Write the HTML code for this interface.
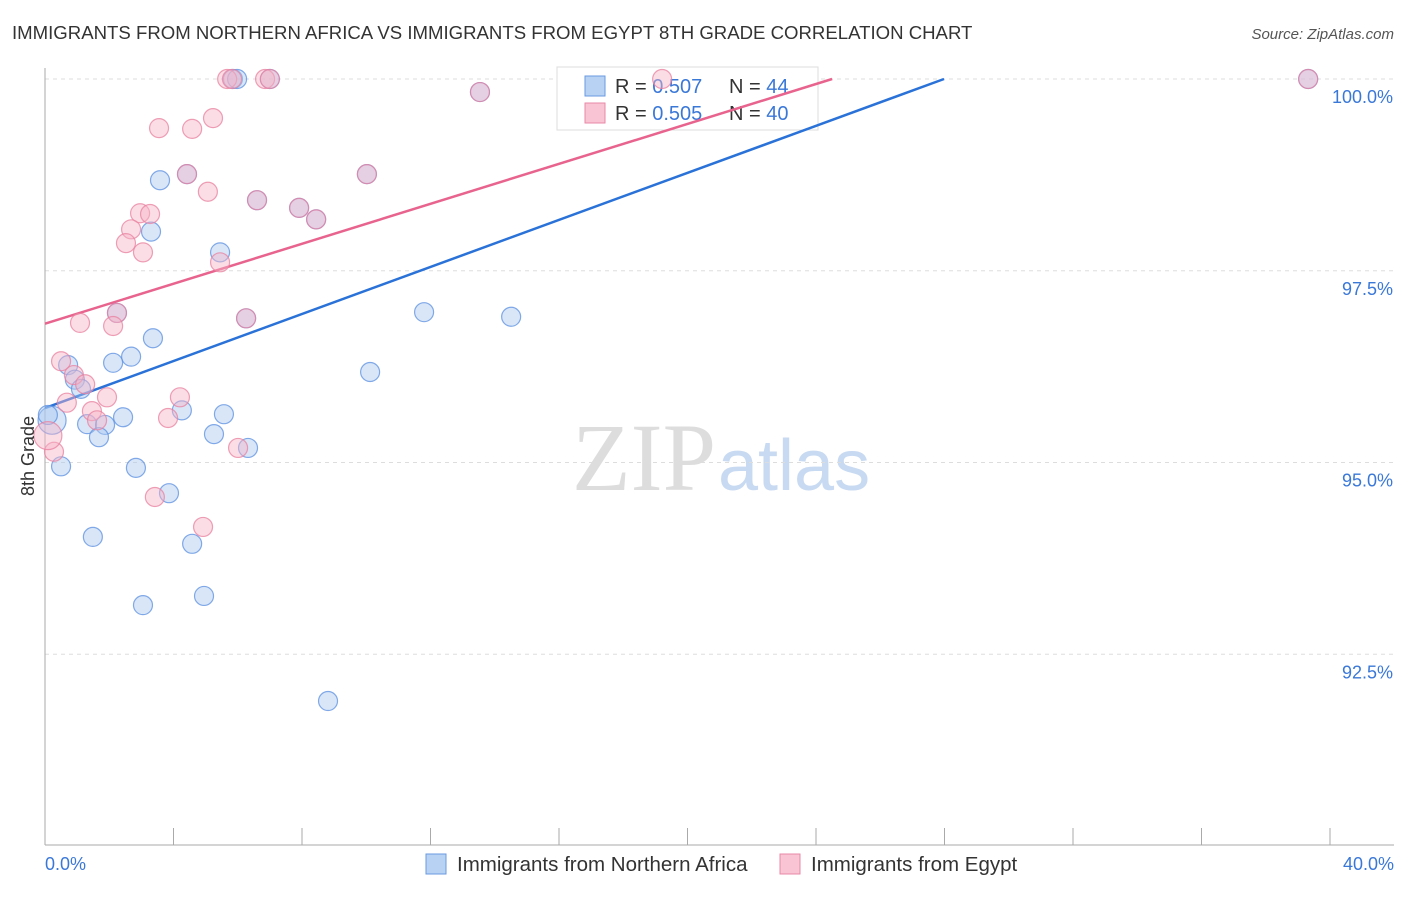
<!DOCTYPE html>
<html><head><meta charset="utf-8"><style>
body{margin:0;background:#fff;font-family:"Liberation Sans",sans-serif}
</style></head><body>
<svg id="c" width="1406" height="892" xmlns="http://www.w3.org/2000/svg">
<text x="12" y="39" font-size="18.6" fill="#333">IMMIGRANTS FROM NORTHERN AFRICA VS IMMIGRANTS FROM EGYPT 8TH GRADE CORRELATION CHART</text>
<text x="1394" y="39" font-size="15" fill="#555" text-anchor="end" font-style="italic">Source: ZipAtlas.com</text>
<text x="716" y="490" font-size="96" fill="#ddd" text-anchor="end" font-family="Liberation Serif,serif">ZIP</text>
<text x="718" y="490" font-size="72" fill="#c8daf2">atlas</text>
<g id="grid"></g><g id="axes"></g>
<g>
<rect x="557" y="67" width="261" height="63" fill="#fff" stroke="#ddd"/>
<rect x="585" y="76" width="20" height="20" fill="#b8d2f4" stroke="#6a9ae0"/>
<rect x="585" y="103" width="20" height="20" fill="#f9c4d4" stroke="#e88aa8"/>
<text x="615" y="93" font-size="20" fill="#333">R = <tspan fill="#3a78d8">0.507</tspan></text>
<text x="729" y="93" font-size="20" fill="#333">N = <tspan fill="#3a78d8">44</tspan></text>
<text x="615" y="120" font-size="20" fill="#333">R = <tspan fill="#3a78d8">0.505</tspan></text>
<text x="729" y="120" font-size="20" fill="#333">N = <tspan fill="#3a78d8">40</tspan></text>
</g>
<g id="lines"></g><g id="pts"></g>
<text transform="translate(34,456) rotate(-90)" font-size="18" fill="#333" text-anchor="middle">8th Grade</text>
<g>
<rect x="426" y="854" width="20" height="20" fill="#b8d2f4" stroke="#6a9ae0"/>
<text x="457" y="871" font-size="20.5" fill="#333">Immigrants from Northern Africa</text>
<rect x="780" y="854" width="20" height="20" fill="#f9c4d4" stroke="#e88aa8"/>
<text x="811" y="871" font-size="20.5" fill="#333">Immigrants from Egypt</text>
</g>
</svg>
<script>
const xTicks=[0,4,8,12,16,20,24,28,32,36,40];
const yTicks=[92.5,95,97.5,100];
const blueX=[5.85,5.98,7.00,13.54,39.32,3.58,4.42,3.30,6.60,7.91,8.44,10.02,5.45,2.24,6.26,11.80,14.51,3.36,2.68,2.12,0.72,0.93,1.12,10.12,4.26,5.57,2.43,1.31,1.87,1.68,5.26,6.32,0.22,0.50,2.83,3.86,1.49,4.58,4.95,3.05,8.81,0.09];
const blueY=[100,100,100,99.83,100,98.68,98.76,98.01,98.42,98.32,98.17,98.76,97.74,96.95,96.88,96.96,96.90,96.62,96.38,96.30,96.27,96.08,95.96,96.18,95.68,95.63,95.59,95.50,95.49,95.33,95.37,95.19,95.55,94.95,94.93,94.60,94.03,93.94,93.26,93.14,91.89,95.62];
const pinkX=[5.67,5.82,6.85,7.00,19.21,13.54,39.32,3.55,4.58,5.23,5.07,4.42,2.96,3.27,2.68,2.52,3.05,6.60,7.91,8.44,10.02,5.45,2.24,1.09,2.12,6.26,0.50,0.90,1.25,0.68,1.93,1.46,1.62,4.20,3.83,6.01,0.28,0.09,3.42,4.92];
const pinkY=[100,100,100,100,100,99.83,100,99.36,99.35,99.49,98.53,98.76,98.25,98.24,98.04,97.86,97.74,98.42,98.32,98.17,98.76,97.61,96.95,96.82,96.78,96.88,96.32,96.14,96.02,95.78,95.85,95.67,95.55,95.85,95.58,95.19,95.14,95.35,94.55,94.16];
const trendIntercept=[95.71,96.81];
const trendSlope=[0.1533,0.1302];
const X=v=>45+v*32.125, Y=v=>79+(100-v)*76.7;
const NS='http://www.w3.org/2000/svg';
function mk(t,a,p){const e=document.createElementNS(NS,t);for(const k in a)e.setAttribute(k,a[k]);p.appendChild(e);return e;}
const grid=document.getElementById('grid'),axes=document.getElementById('axes'),lines=document.getElementById('lines'),pts=document.getElementById('pts');
yTicks.forEach(t=>{
 const l=mk('line',{x1:45,x2:1394,y1:Y(t),y2:Y(t),stroke:'#ddd','stroke-dasharray':'4,4'},grid);
 
 
 const tx=mk('text',{x:1393,y:Y(t)+24,'font-size':18,fill:'#3a78d8','text-anchor':'end'},axes);
 tx.textContent=t.toFixed(1)+'%';
 
 
});
mk('line',{x1:45,x2:45,y1:68,y2:845,stroke:'#aaa'},axes);
mk('line',{x1:45,x2:1394,y1:845,y2:845,stroke:'#aaa'},axes);
xTicks.forEach(t=>{mk('line',{x1:X(t),x2:X(t),y1:828,y2:845,stroke:'#aaa'},axes);});
[[0,'start',45],[40,'end',1394]].forEach(([v,a,x])=>{
 const tx=mk('text',{x:x,y:870,'font-size':18,fill:'#3a78d8','text-anchor':a},axes);
 tx.textContent=v.toFixed(1)+'%';
 
 
});
const cols=['#2a72d8','#e8648e'];
trendIntercept.forEach((b,i)=>{
 const m=trendSlope[i];const xe=Math.min(40,(100-b)/m);
 const l=mk('line',{x1:X(0),y1:Y(b),x2:X(xe),y2:Y(b+m*xe),stroke:cols[i],'stroke-width':2.5},lines);
 
 
});
function draw(xs,ys,fill,stroke,name,bigIdx){
 xs.forEach((x,i)=>{
  const r=(i===bigIdx)?14:9.5;
  const c=mk('circle',{cx:X(x),cy:Y(ys[i]),r:r,fill:fill,'fill-opacity':0.45,stroke:stroke,'stroke-opacity':0.75,'stroke-width':1.2},pts);
  
  
 });
}
draw(blueX,blueY,'#a8c8f0','#5b8fe0','n-africa-point',32);
draw(pinkX,pinkY,'#f6b4c8','#e8809f','egypt-point',37);
</script>
</body></html>
